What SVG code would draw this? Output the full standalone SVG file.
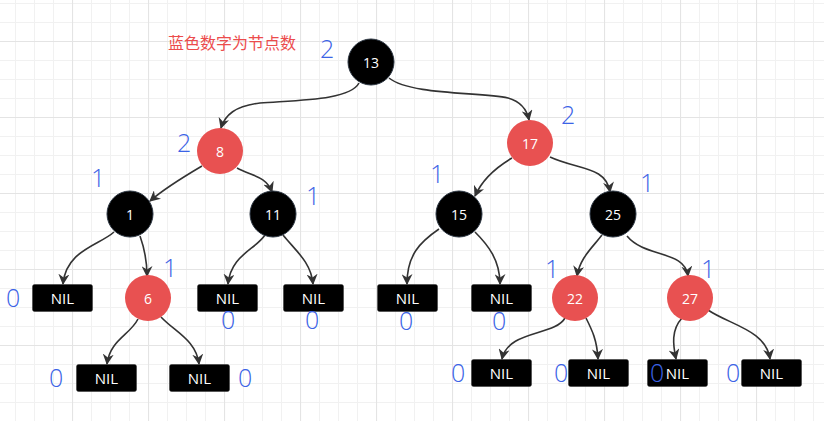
<svg xmlns="http://www.w3.org/2000/svg" width="824" height="421" viewBox="0 0 824 421">
<style>
.blk{fill:#000;stroke:#2a3440;stroke-width:1}
.red{fill:#e85151;stroke:none}
.nil{fill:#000;stroke:#333;stroke-width:0.5}
.lbl{font-family:"Open Sans","Liberation Sans",sans-serif;font-size:14px;fill:#fff;text-anchor:middle;dominant-baseline:central}
.nl{font-family:"Open Sans","Liberation Sans",sans-serif;font-size:15px;fill:#fff;text-anchor:middle;dominant-baseline:central}
.cnt{font-family:"Open Sans","Liberation Sans",sans-serif;font-weight:300;font-size:25px;fill:#3b63e6}
.edge{fill:none;stroke:#333;stroke-width:1.6;marker-end:url(#ah)}
</style>
<defs>
<pattern id="minor" x="15" y="3" width="19" height="19" patternUnits="userSpaceOnUse">
<path d="M0.5 0V19M0 0.5H19" stroke="#f1f1f1" stroke-width="1" fill="none"/>
</pattern>
<pattern id="major" x="72" y="41" width="76" height="76" patternUnits="userSpaceOnUse">
<path d="M0.5 0V76M0 0.5H76" stroke="#e4e4e4" stroke-width="1.2" fill="none"/>
</pattern>
<marker id="ah" viewBox="0 0 10 10" refX="9" refY="5" markerWidth="11" markerHeight="11" markerUnits="userSpaceOnUse" orient="auto">
<path d="M0,0 L10,5 L0,10 L3,5 z" fill="#333"/>
</marker>
</defs>
<rect width="824" height="421" fill="#fff"/>
<rect width="824" height="421" fill="url(#minor)"/>
<rect width="824" height="421" fill="url(#major)"/>

<g id="connectors">
<path class="edge" d="M359,83 C350,100 300,100 260,103 C235,106 225,115 221,128"/>
<path class="edge" d="M389,78 C410,95 480,92 508,98 C522,102 527,110 529,120"/>
<path class="edge" d="M202,166 C185,176 165,188 150,201"/>
<path class="edge" d="M237,168 C252,176 266,176 272,192"/>
<path class="edge" d="M114,232 C100,245 66,250 63,284"/>
<path class="edge" d="M140,236 C145,250 147,260 147,276"/>
<path class="edge" d="M265,235 C255,250 231,255 228,284"/>
<path class="edge" d="M283,235 C295,250 311,262 313,284"/>
<path class="edge" d="M138,319 C130,335 110,340 107,364"/>
<path class="edge" d="M161,317 C175,332 196,340 199,364"/>
<path class="edge" d="M512,158 C495,168 482,180 475,196"/>
<path class="edge" d="M550,157 C578,170 606,166 610,192"/>
<path class="edge" d="M439,229 C420,242 407,255 407,284"/>
<path class="edge" d="M475,232 C488,245 500,260 500,284"/>
<path class="edge" d="M602,235 C592,248 580,258 577,276"/>
<path class="edge" d="M627,236 C645,258 685,250 688,276"/>
<path class="edge" d="M565,318 C555,336 508,330 502,359"/>
<path class="edge" d="M586,318 C592,330 597,340 598,359"/>
<path class="edge" d="M682,318 C671,330 673,345 676,359"/>
<path class="edge" d="M708,310 C730,325 766,330 770,359"/>
</g>

<g id="n13"><circle class="blk" cx="371" cy="62" r="23"/><text class="lbl" x="371" y="62">13</text></g>
<g id="n8"><circle class="red" cx="220" cy="151" r="23"/><text class="lbl" x="220" y="151">8</text></g>
<g id="n17"><circle class="red" cx="530" cy="143" r="23"/><text class="lbl" x="530" y="143">17</text></g>
<g id="n1"><circle class="blk" cx="130" cy="214" r="23"/><text class="lbl" x="130" y="214">1</text></g>
<g id="n11"><circle class="blk" cx="273" cy="214" r="23"/><text class="lbl" x="273" y="214">11</text></g>
<g id="n15"><circle class="blk" cx="459" cy="214" r="23"/><text class="lbl" x="459" y="214">15</text></g>
<g id="n25"><circle class="blk" cx="613" cy="214" r="23"/><text class="lbl" x="613" y="214">25</text></g>
<g id="n6"><circle class="red" cx="148" cy="298" r="23"/><text class="lbl" x="148" y="298">6</text></g>
<g id="n22"><circle class="red" cx="575" cy="298" r="23"/><text class="lbl" x="575" y="298">22</text></g>
<g id="n27"><circle class="red" cx="690" cy="298" r="23"/><text class="lbl" x="690" y="298">27</text></g>

<g id="nil1"><rect class="nil" x="32.5" y="284.5" width="60" height="27" rx="2"/><text class="nl" x="62.5" y="298">NIL</text></g>
<g id="nil2"><rect class="nil" x="197.5" y="284.5" width="60" height="27" rx="2"/><text class="nl" x="227.5" y="298">NIL</text></g>
<g id="nil3"><rect class="nil" x="283.5" y="284.5" width="60" height="27" rx="2"/><text class="nl" x="313.5" y="298">NIL</text></g>
<g id="nil4"><rect class="nil" x="377.5" y="284.5" width="60" height="27" rx="2"/><text class="nl" x="407.5" y="298">NIL</text></g>
<g id="nil5"><rect class="nil" x="471.5" y="284.5" width="60" height="27" rx="2"/><text class="nl" x="501.5" y="298">NIL</text></g>
<g id="nil6"><rect class="nil" x="76.5" y="364.5" width="60" height="27" rx="2"/><text class="nl" x="106.5" y="378">NIL</text></g>
<g id="nil7"><rect class="nil" x="169.5" y="364.5" width="60" height="27" rx="2"/><text class="nl" x="199.5" y="378">NIL</text></g>
<g id="nil8"><rect class="nil" x="471.5" y="359.5" width="60" height="27" rx="2"/><text class="nl" x="501.5" y="373">NIL</text></g>
<g id="nil9"><rect class="nil" x="568.5" y="359.5" width="60" height="27" rx="2"/><text class="nl" x="598.5" y="373">NIL</text></g>
<g id="nil10"><rect class="nil" x="647.5" y="359.5" width="60" height="27" rx="2"/><text class="nl" x="677.5" y="373">NIL</text></g>
<g id="nil11"><rect class="nil" x="741.5" y="359.5" width="60" height="27" rx="2"/><text class="nl" x="771.5" y="373">NIL</text></g>

<g id="counts">
<text class="cnt" x="320" y="58">2</text>
<text class="cnt" x="177" y="152">2</text>
<text class="cnt" x="561" y="124">2</text>
<text class="cnt" x="91" y="187">1</text>
<text class="cnt" x="306" y="205">1</text>
<text class="cnt" x="163" y="277">1</text>
<text class="cnt" x="430" y="183">1</text>
<text class="cnt" x="640" y="192">1</text>
<text class="cnt" x="545" y="278">1</text>
<text class="cnt" x="701" y="278">1</text>
<text class="cnt" x="6" y="307">0</text>
<text class="cnt" x="221" y="329">0</text>
<text class="cnt" x="305" y="329">0</text>
<text class="cnt" x="399" y="330">0</text>
<text class="cnt" x="492" y="330">0</text>
<text class="cnt" x="49" y="387">0</text>
<text class="cnt" x="238" y="387">0</text>
<text class="cnt" x="451" y="382">0</text>
<text class="cnt" x="554" y="382">0</text>
<text class="cnt" x="650" y="382">0</text>
<text class="cnt" x="726" y="382">0</text>
</g>
<text id="caption" x="168" y="48.5" font-family="'Liberation Sans','Noto Sans CJK SC',sans-serif" font-size="16" fill="#ec4c4c">蓝色数字为节点数</text>
</svg>
